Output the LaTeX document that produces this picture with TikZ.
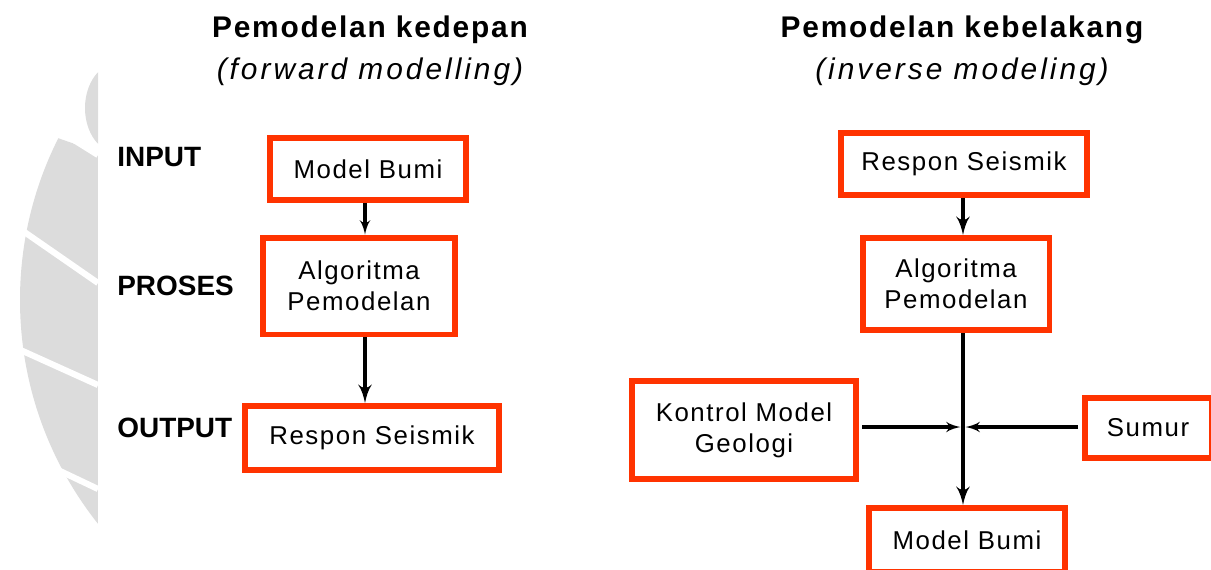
\documentclass[tikz,border=0pt]{standalone}
\usepackage{fontspec}
\setmainfont{Liberation Sans}
\usepackage{tikz}
\usetikzlibrary{arrows}

\definecolor{boxred}{HTML}{FF3300}
\definecolor{markgrey}{HTML}{DCDCDC}

\begin{document}
\begin{tikzpicture}
                [
                x=0.02cm, y=-0.02cm,
                box/.style={draw=boxred,line width=3.4pt,fill=white,inner sep=0pt,align=center,
                    font=\fontsize{14.7}{17.5}\selectfont\addfontfeature{LetterSpace=6}},
                title/.style={font=\fontsize{17}{20}\selectfont\bfseries\addfontfeature{LetterSpace=6}},
                subtitle/.style={font=\fontsize{17}{20}\selectfont\itshape\addfontfeature{LetterSpace=10}},
                label/.style={anchor=west,inner sep=0pt,font=\fontsize{15.9}{18}\selectfont\bfseries},
                edge/.style={->,> = latex',line width=1.8pt},
                bigedge/.style={->,> = latex',line width=2.6pt}
                ]
            \useasboundingbox (0,0) rectangle (1211,569);
            % faint logo at the left edge
            \begin{scope}
                \clip (0,0) rectangle (98,569);
                \fill[markgrey] (118,108) ellipse (33 and 45);
                \begin{scope}
                    \clip (0,118) -- (98,152) -- (98,569) -- (0,569) -- cycle;
                    \fill[markgrey] (380,300) circle (360);
                \end{scope}
                \draw[white,line width=3.5pt] (98,155) -- (50,125);
                \draw[white,line width=3.5pt] (98,283) -- (10,222);
                \draw[white,line width=3.5pt] (98,385) -- (5,343);
                \draw[white,line width=3.5pt] (98,489) -- (20,452);
            \end{scope}
            % titles
            \node[title] (lttl) at (370,30) {Pemodelan kedepan};
            \node[subtitle] (lsub) at (370,72) {(forward modelling)};
            \node[title] (rttl) at (962,30) {Pemodelan kebelakang};
            \node[subtitle] (rsub) at (962,72) {(inverse modeling)};
            % row labels
            \node[label] (inp) at (117,157) {INPUT};
            \node[label] (pro) at (117,286) {PROSES};
            \node[label] (out) at (117,428) {OUTPUT};
            % forward modelling
            \node[box,minimum width=3.94cm,minimum height=1.24cm] (lmodel) at (368,169) {Model Bumi};
            \node[box,minimum width=3.84cm,minimum height=1.94cm] (lalgo) at (359,286) {Algoritma\\Pemodelan};
            \node[box,minimum width=5.08cm,minimum height=1.28cm] (lrespon) at (372,438) {Respon Seismik};
            \draw[edge] ([xshift=-0.06cm]lmodel.south) -- ([xshift=-0.06cm]lmodel.south |- lalgo.north);
            \draw[bigedge] ([xshift=0.12cm]lalgo.south) -- ([xshift=0.12cm]lalgo.south |- lrespon.north);
            % inverse modelling
            \node[box,minimum width=4.92cm,minimum height=1.24cm] (rrespon) at (964,164) {Respon Seismik};
            \node[box,minimum width=3.74cm,minimum height=1.84cm] (ralgo) at (956,284) {Algoritma\\Pemodelan};
            \node[box,minimum width=4.48cm,minimum height=1.96cm] (kontrol) at (744,430) {Kontrol Model\\Geologi};
            \node[box,minimum width=2.54cm,minimum height=1.20cm] (sumur) at (1148,428) {Sumur};
            \node[box,minimum width=3.92cm,minimum height=1.28cm] (rmodel) at (967,540) {Model Bumi};
            \coordinate (junc) at (963,427);
            \draw[bigedge] (rrespon.south -| junc) -- (ralgo.north -| junc);
            \draw[bigedge] (ralgo.south -| junc) -- (rmodel.north -| junc);
            \draw[edge,shorten >=1.5pt] ([xshift=2pt]kontrol.east |- junc) -- (junc);
            \draw[edge,shorten >=1.5pt] ([xshift=-2pt]sumur.west |- junc) -- (junc);
            \end{tikzpicture}
\end{document}
